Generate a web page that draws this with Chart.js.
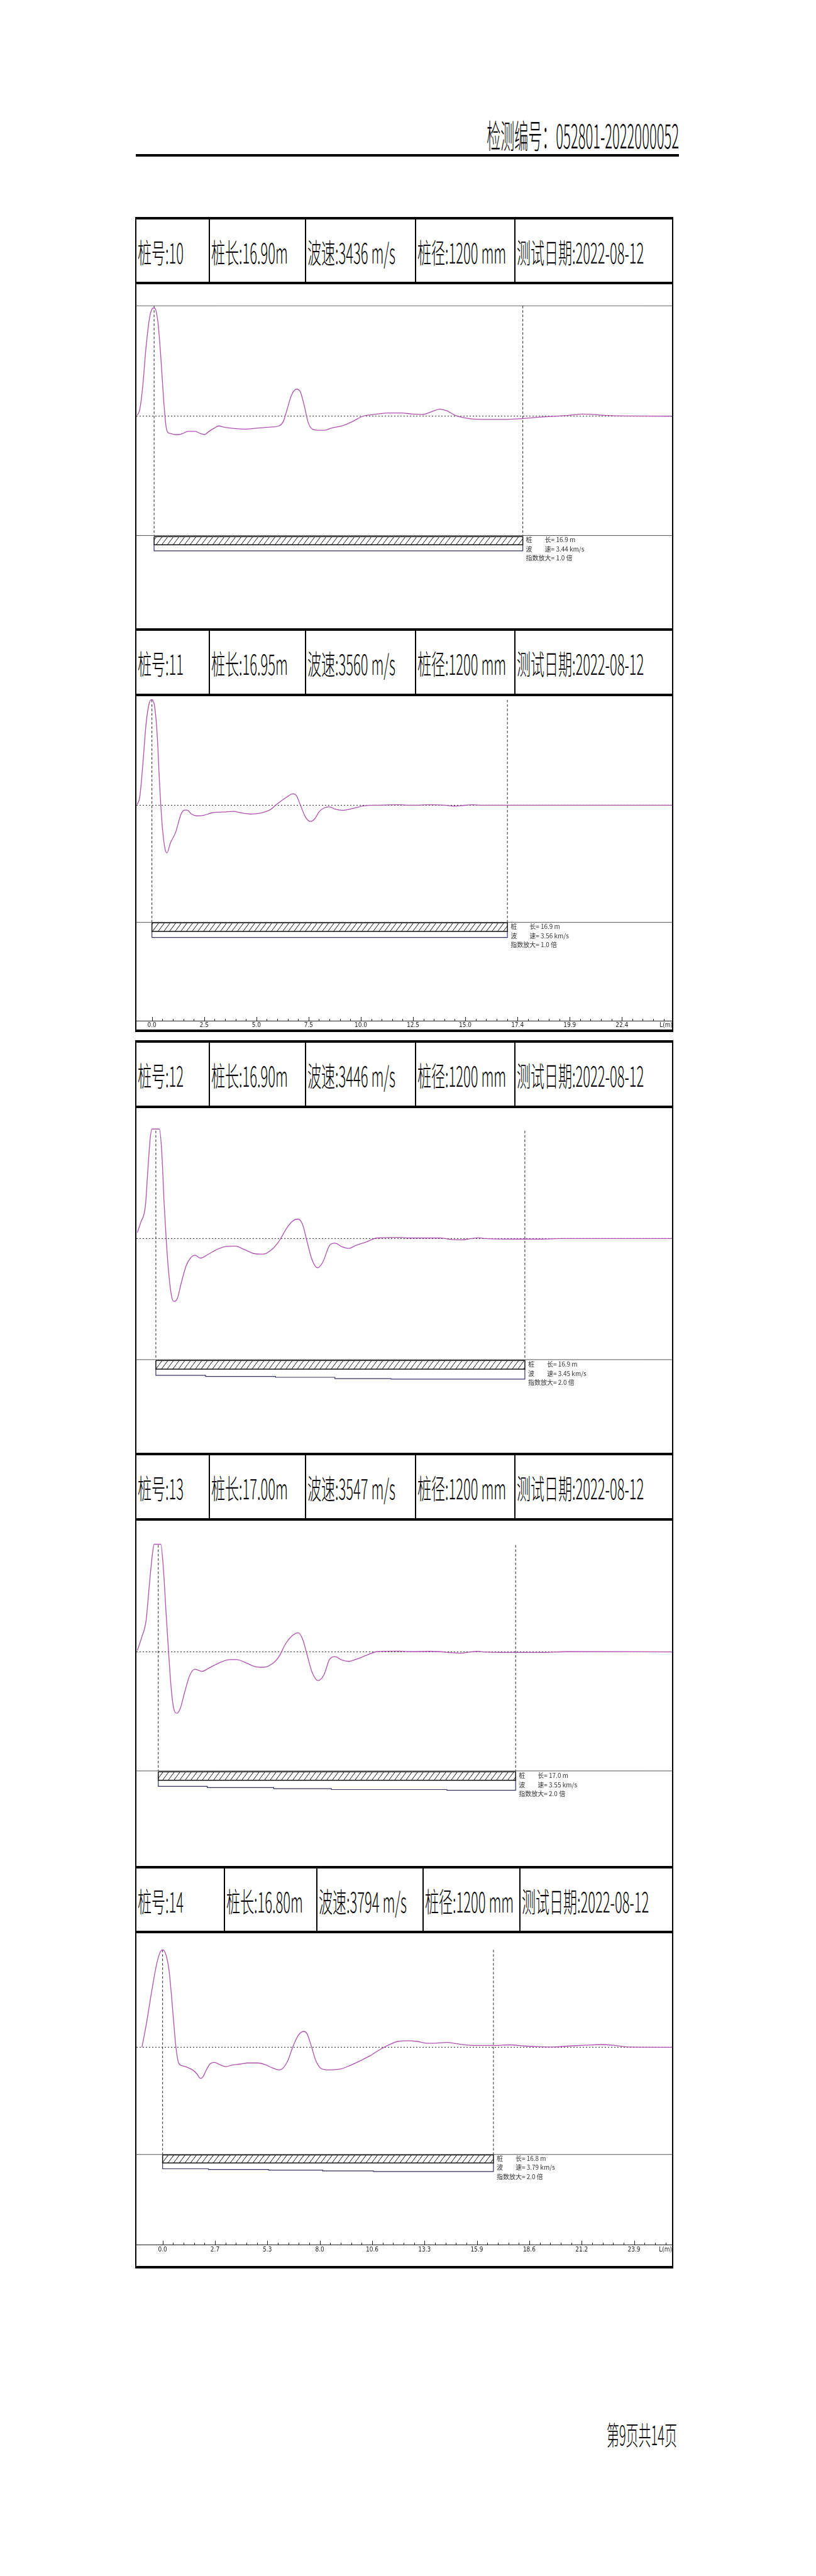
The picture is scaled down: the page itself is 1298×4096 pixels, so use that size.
<!DOCTYPE html>
<html>
<head>
<meta charset="utf-8">
<script src="https://cdn.jsdelivr.net/npm/chart.js@4.4.0/dist/chart.umd.min.js"></script>
<style>
  html, body { margin: 0; padding: 0; background: #fff; }
  body { width: 1298px; height: 4096px; position: relative; overflow: hidden; font-family: "Noto Sans CJK SC", sans-serif; color: #000; }
  .rule { position: absolute; background: #000; }
  .stretch { position: absolute; white-space: nowrap; line-height: 1; font-weight: 300; }
  #docNo { right: 218px; top: 201px; font-size: 22px; transform: scaleY(2.4); transform-origin: right center; }
  #pageNo { right: 221px; top: 3861px; font-size: 20px; transform: scaleY(2.1); transform-origin: right center; }
  .cell { position: absolute; display: flex; align-items: center; }
  .cell span { display: inline-block; font-size: 22px; font-weight: 300; line-height: 1; white-space: nowrap; transform: scaleY(2.0); transform-origin: left center; }
  canvas { position: absolute; }
</style>
</head>
<body>
<div class="stretch" id="docNo">检测编号：052801-2022000052</div>
<div class="rule" style="left:216px;top:245px;width:864px;height:4px"></div>
<div class="stretch" id="pageNo">第9页共14页</div>

<script>
// ---- 表头 ----
const p10Head = ['桩号:10', '桩长:16.90m', '波速:3436 m/s', '桩径:1200 mm', '测试日期:2022-08-12'];
const p11Head = ['桩号:11', '桩长:16.95m', '波速:3560 m/s', '桩径:1200 mm', '测试日期:2022-08-12'];
const p12Head = ['桩号:12', '桩长:16.90m', '波速:3446 m/s', '桩径:1200 mm', '测试日期:2022-08-12'];
const p13Head = ['桩号:13', '桩长:17.00m', '波速:3547 m/s', '桩径:1200 mm', '测试日期:2022-08-12'];
const p14Head = ['桩号:14', '桩长:16.80m', '波速:3794 m/s', '桩径:1200 mm', '测试日期:2022-08-12'];

// ---- 图内说明 ----
const p10Legend = ['桩　　长= 16.9 m', '波　　速= 3.44 km/s', '指数放大= 1.0 倍'];
const p11Legend = ['桩　　长= 16.9 m', '波　　速= 3.56 km/s', '指数放大= 1.0 倍'];
const p12Legend = ['桩　　长= 16.9 m', '波　　速= 3.45 km/s', '指数放大= 2.0 倍'];
const p13Legend = ['桩　　长= 17.0 m', '波　　速= 3.55 km/s', '指数放大= 2.0 倍'];
const p14Legend = ['桩　　长= 16.8 m', '波　　速= 3.79 km/s', '指数放大= 2.0 倍'];

// ---- 波形曲线 (距离 m / 幅值) ----
const p10Dist = [-0.77, -0.66, -0.53, -0.37, -0.21, -0.08, 0, 0.08, 0.19, 0.30, 0.43, 0.55, 0.64, 0.75, 0.95, 1.15, 1.31, 1.56, 1.88, 2.12, 2.31, 2.52, 2.76, 2.97, 3.16, 3.48, 4.12, 4.76, 5.40, 5.72, 5.92, 6.08, 6.29, 6.53, 6.69, 6.88, 7.05, 7.25, 7.49, 7.81, 8.13, 8.61, 9.09, 9.57, 10.05, 10.70, 11.33, 11.82, 12.30, 12.70, 13.10, 13.42, 13.82, 14.22, 15.02, 15.83, 16.63, 17.43, 18.23, 19.03, 19.67, 20.15, 20.79, 21.52, 23.74];
const p10Amp = [1, 5.9, 25.7, 63.4, 90.6, 99.4, 100, 98, 84.3, 57, 17.4, -9.8, -15.3, -16, -17, -17, -16, -14, -14, -16, -17, -14, -11, -9, -10, -11, -12, -11, -10, -9, -5, 5, 19, 25, 23, 10, -5, -12, -13, -13, -11, -9, -5, 0, 1.5, 3, 3, 2, 1.5, 4, 6.5, 5, 0.6, -1.5, -3, -3, -2.5, -1.2, -0.2, 0.8, 2, 1.5, 0.6, 0.2, 0];

const p11Dist = [-0.70, -0.58, -0.45, -0.28, -0.12, 0, 0.13, 0.25, 0.38, 0.50, 0.63, 0.72, 0.88, 1.13, 1.38, 1.55, 1.68, 1.88, 2.14, 2.39, 2.89, 3.39, 3.89, 4.22, 4.72, 5.22, 5.64, 6.06, 6.47, 6.72, 6.89, 7.09, 7.31, 7.56, 7.76, 7.97, 8.22, 8.47, 8.72, 9.06, 9.56, 10.14, 10.73, 11.73, 12.40, 13.23, 14.06, 14.40, 14.73, 15.31, 15.73, 24.80];
const p11Amp = [0.6, 7.7, 34, 75, 95, 97.7, 91, 65, 14, -21, -41, -44, -35, -25, -8.6, -4.5, -4.5, -8.1, -9.8, -9.6, -6.9, -6.3, -5.7, -6.9, -8.1, -7.1, -4.1, 2.6, 8.1, 10.6, 8.8, -0.4, -10.6, -15, -12.6, -6.1, -2.4, -1.4, -3.5, -4.7, -3.1, -0.4, 0, 0.4, 0, 0.4, -0.2, -0.8, -0.4, 0.4, 0, 0];

const p12Dist = [-0.85, -0.69, -0.48, -0.37, -0.26, -0.18, 0.16, 0.27, 0.38, 0.48, 0.59, 0.71, 0.83, 0.99, 1.15, 1.39, 1.63, 1.79, 2.04, 2.36, 2.76, 3.24, 3.64, 4.04, 4.52, 4.92, 5.32, 5.64, 6.04, 6.36, 6.52, 6.73, 6.92, 7.16, 7.40, 7.64, 7.96, 8.20, 8.52, 8.85, 9.17, 9.65, 10.13, 11.09, 11.73, 12.53, 13.01, 13.49, 13.97, 14.46, 14.78, 15.10, 16.54, 17.50, 18.62, 23.64];
const p12Amp = [5.5, 15, 30, 62, 92, 101, 101, 80, 32, -2.5, -32, -52, -58, -55, -42, -25, -17, -15.4, -18, -15, -10.4, -7.2, -7, -10, -14, -14.4, -10, -2.5, 11, 17.4, 17.9, 12.4, -2.5, -20, -27, -22, -6.2, -4.2, -7.5, -9, -6.2, -3, 0.5, 1, 0.5, 0.5, 0.5, -0.7, -1.2, 0, 0.7, 0, -0.5, -0.5, 0, 0];

const p13Dist = [-1.00, -0.78, -0.58, -0.42, -0.28, -0.20, 0.12, 0.25, 0.37, 0.50, 0.62, 0.75, 0.88, 1.05, 1.25, 1.50, 1.75, 2.08, 2.41, 2.91, 3.41, 3.74, 4.08, 4.58, 5.00, 5.49, 5.74, 6.07, 6.44, 6.66, 6.87, 7.07, 7.32, 7.60, 7.87, 8.15, 8.40, 8.74, 9.07, 9.40, 9.90, 10.40, 11.40, 12.06, 12.90, 13.40, 13.90, 14.40, 14.80, 15.20, 15.56, 17.05, 18.20, 19.40, 24.44];
const p13Amp = [1.2, 14, 29, 63, 90, 99.4, 99.4, 75, 36, -3.2, -35, -53.5, -56.7, -52, -37.6, -21.6, -16, -18, -15, -10, -7.1, -7.1, -9.3, -13.5, -14.2, -10, -4.4, 7.9, 16, 17.7, 11.5, -2, -19, -26.5, -21.6, -6.9, -4.4, -7.6, -8.8, -6.9, -3.2, 0.2, 0.7, 0.2, 0.5, 0.2, -0.7, -1.2, -0.2, 0.5, -0.2, -0.5, -0.5, 0.2, 0];

const p14Dist = [-1.05, -0.83, -0.57, -0.30, -0.12, 0, 0.14, 0.32, 0.44, 0.55, 0.67, 0.82, 1.03, 1.30, 1.56, 1.74, 1.92, 2.06, 2.22, 2.40, 2.63, 2.90, 3.21, 3.52, 3.96, 4.32, 4.85, 5.20, 5.56, 5.91, 6.13, 6.36, 6.63, 6.89, 7.16, 7.34, 7.55, 7.78, 8.05, 8.40, 9.02, 9.47, 10.00, 10.53, 11.07, 11.60, 11.95, 12.49, 12.93, 13.46, 13.91, 14.44, 14.97, 15.50, 16.20, 16.90, 17.64, 18.35, 19.06, 19.77, 20.66, 21.55, 22.26, 22.97, 23.68, 25.87];
const p14Amp = [0, 21, 50, 77, 88, 90, 87, 72, 50, 26, 1.2, -14.7, -17.2, -18.9, -21.4, -24.5, -28.7, -27, -20.9, -15.5, -14, -16, -17.9, -16.4, -15.5, -14.5, -14.5, -16, -18.9, -20.9, -18.9, -12.3, 1.2, 11, 14.7, 12.3, 1.2, -12.3, -19.6, -20.9, -20.1, -17.2, -12.8, -7.9, -1.7, 3.2, 5.4, 6.1, 5.4, 3.7, 3.9, 4.4, 3.2, 2, 1.7, 1.7, 2.2, 1.2, 0.5, 0.2, 1.2, 2, 2.5, 1.7, 0.2, 0];

// ---- 桩身示意下边线 (距离 m / 幅值) ----
const p10LowX = [0, 16.9];
const p10LowY = [-124.4, -124.4];
const p11LowX = [0, 16.95];
const p11LowY = [-122.2, -122.2];
const p12LowX = [0, 2.28, 5.48, 8.2, 10.77, 13.65, 16.9];
const p12LowY = [-125.5, -126.2, -127.2, -128, -129.2, -129.7, -129.7];
const p13LowX = [0, 2.33, 5.49, 8.24, 10.73, 13.73, 15.72, 17.0];
const p13LowY = [-123.5, -124.2, -125.4, -126.4, -127.2, -127.2, -127.9, -127.9];
const p14LowX = [0, 2.33, 5.38, 8.13, 10.71, 13.55, 15.6, 16.8];
const p14LowY = [-111.7, -112.2, -112.9, -113.4, -114.2, -114.7, -114.7, -114.7];

// ---- 横轴刻度 ----
const p11TickPos = [0, 2.49, 4.98, 7.47, 9.96, 12.45, 14.94, 17.43, 19.92, 22.41];
const p11TickLabels = ['0.0', '2.5', '5.0', '7.5', '10.0', '12.5', '15.0', '17.4', '19.9', '22.4'];
const p14TickPos = [0, 2.66, 5.32, 7.98, 10.64, 13.30, 15.96, 18.62, 21.28, 23.94];
const p14TickLabels = ['0.0', '2.7', '5.3', '8.0', '10.6', '13.3', '15.9', '18.6', '21.2', '23.9'];

// 版面 (像素) 与各图的坐标范围
const frameL = 215, frameR = 1071;
const colsA = [332, 485, 660, 818];
const colsB = [356, 503, 672, 826];

const panels = [
  { top: 345, head: 448, bottom: 999, cols: colsA, head_: p10Head, legend: p10Legend, dist: p10Dist, amp: p10Amp, lowX: p10LowX, lowY: p10LowY,
    len: 16.9, xMin: -0.81, xMax: 23.74, yMin: -196.0, yMax: 121.9, topLine: 102, floor: -110.3, barTop: -111.3, barBot: -118.8, dashTop: 102, legendY: -114.3 },
  { top: 999, head: 1103, bottom: 1637, cols: colsA, head_: p11Head, legend: p11Legend, dist: p11Dist, amp: p11Amp, lowX: p11LowX, lowY: p11LowY,
    len: 16.95, xMin: -0.74, xMax: 24.80, yMin: -199.2, yMax: 100.8, floor: -108.3, barTop: -108.6, barBot: -116.6, dashTop: 97.4, legendY: -112.3,
    axisH: 14, tickPad: 1, tickPos: p11TickPos, tickLabels: p11TickLabels, unitPos: 24.52 },
  { top: 1654, head: 1758, bottom: 2310, cols: colsA, head_: p12Head, legend: p12Legend, dist: p12Dist, amp: p12Amp, lowX: p12LowX, lowY: p12LowY,
    len: 16.9, xMin: -0.89, xMax: 23.64, yMin: -197.6, yMax: 120.3, floor: -111.7, barTop: -112.5, barBot: -120.5, dashTop: 99.5, legendY: -116 },
  { top: 2310, head: 2414, bottom: 2967, cols: colsA, head_: p13Head, legend: p13Legend, dist: p13Dist, amp: p13Amp, lowX: p13LowX, lowY: p13LowY,
    len: 17.0, xMin: -1.04, xMax: 24.44, yMin: -197.8, yMax: 121.2, floor: -110, barTop: -110.8, barBot: -118.6, dashTop: 98.7, legendY: -114.5 },
  { top: 2967, head: 3070, bottom: 3603, cols: colsB, head_: p14Head, legend: p14Legend, dist: p14Dist, amp: p14Amp, lowX: p14LowX, lowY: p14LowY,
    len: 16.8, xMin: -1.33, xMax: 25.87, yMin: -182.2, yMax: 105.3, floor: -99, barTop: -99.4, barBot: -106.8, dashTop: 90, legendY: -102.6,
    axisH: 34, tickPad: 2, tickPos: p14TickPos, tickLabels: p14TickLabels, unitPos: 25.54 }
];

const addBox = (x, y, w, h) => {
  const d = document.createElement('div');
  d.className = 'rule';
  d.style.cssText = `left:${x}px;top:${y}px;width:${w}px;height:${h}px`;
  document.body.appendChild(d);
};

// 斜线填充
const makeHatch = () => {
  const c = document.createElement('canvas');
  c.width = 9; c.height = 12;
  const g = c.getContext('2d');
  g.fillStyle = '#fff';
  g.fillRect(0, 0, 9, 12);
  g.strokeStyle = '#111';
  g.lineWidth = 1;
  g.beginPath(); g.moveTo(0, 12); g.lineTo(9, 0); g.stroke();
  return g.createPattern(c, 'repeat');
};
const hatch = makeHatch();

const xy = (xs, ys) => xs.map((v, i) => ({ x: v, y: ys[i] }));

Chart.defaults.font.family = '"Noto Sans CJK SC", sans-serif';

panels.forEach(p => {
  // 表格线
  addBox(frameL, p.top, frameR - frameL, 4);
  addBox(frameL, p.head, frameR - frameL, 4);
  addBox(frameL, p.bottom, frameR - frameL, 4);
  addBox(frameL, p.top, 2, p.bottom + 4 - p.top);
  addBox(frameR - 2, p.top, 2, p.bottom + 4 - p.top);
  p.cols.forEach(cx => addBox(cx, p.top, 2, p.head + 4 - p.top));

  const starts = [frameL + 2].concat(p.cols.map(c => c + 2));
  const ends = p.cols.concat([frameR - 2]);
  p.head_.forEach((t, i) => {
    const d = document.createElement('div');
    d.className = 'cell';
    d.style.cssText = `left:${starts[i] + 2}px;top:${p.top + 4}px;width:${ends[i] - starts[i] - 2}px;height:${p.head - p.top - 4}px`;
    const s = document.createElement('span');
    s.textContent = t;
    d.appendChild(s);
    document.body.appendChild(d);
  });

  // 波形图
  const cv = document.createElement('canvas');
  cv.width = frameR - frameL - 4;
  cv.height = p.bottom - p.head - 4;
  cv.style.left = (frameL + 2) + 'px';
  cv.style.top = (p.head + 4) + 'px';
  document.body.appendChild(cv);

  const lowLine = [{ x: 0, y: p.barBot }].concat(xy(p.lowX, p.lowY)).concat([{ x: p.len, y: p.barBot }]);
  lowLine.splice(1, 0, { x: 0, y: p.lowY[0] });

  const datasets = [
    { data: xy(p.dist, p.amp), borderColor: '#b050b0', borderWidth: 1.3, cubicInterpolationMode: 'monotone' },
    { data: [{ x: p.xMin, y: 0 }, { x: p.xMax, y: 0 }], borderColor: '#222', borderWidth: 1, borderDash: [2, 3] },
    { data: [{ x: 0, y: p.dashTop }, { x: 0, y: p.floor }], borderColor: '#222', borderWidth: 1, borderDash: [4, 3] },
    { data: [{ x: p.len, y: p.dashTop }, { x: p.len, y: p.floor }], borderColor: '#222', borderWidth: 1, borderDash: [4, 3] },
    { data: [{ x: p.xMin, y: p.floor }, { x: p.xMax, y: p.floor }], borderColor: '#555', borderWidth: 1 },
    { data: [{ x: 0, y: p.barTop }, { x: p.len, y: p.barTop }, { x: p.len, y: p.barBot }, { x: 0, y: p.barBot }, { x: 0, y: p.barTop }],
      borderColor: '#111', borderWidth: 1.5, fill: 'shape', backgroundColor: hatch },
    { data: lowLine, stepped: 'after', borderColor: '#30306a', borderWidth: 1.2 }
  ];
  if (p.topLine) {
    datasets.push({ data: [{ x: p.xMin, y: p.topLine }, { x: p.xMax, y: p.topLine }], borderColor: '#666', borderWidth: 1 });
  }

  const extras = {
    id: 'pileExtras',
    afterDatasetsDraw(chart) {
      const { ctx, scales: { x, y } } = chart;
      ctx.save();
      ctx.fillStyle = '#333';
      ctx.font = '10px "Noto Sans CJK SC", sans-serif';
      ctx.textBaseline = 'middle';
      const lx = x.getPixelForValue(p.len) + 5;
      const ly = y.getPixelForValue(p.legendY);
      p.legend.forEach((t, i) => ctx.fillText(t, lx, ly + i * 14.5));
      ctx.restore();
    },
    afterDraw(chart) {
      if (!p.tickPos) return;
      const { ctx, chartArea: area, scales: { x } } = chart;
      const step = p.tickPos[1] - p.tickPos[0];
      ctx.save();
      ctx.strokeStyle = '#222';
      ctx.lineWidth = 1;
      ctx.beginPath();
      p.tickPos.forEach(v => {
        const px = Math.round(x.getPixelForValue(v)) + 0.5;
        ctx.moveTo(px, area.bottom); ctx.lineTo(px, area.bottom - 6);
        for (let k = 1; k < 5; k++) {
          const m = v + k * step / 5;
          if (m > x.max) break;
          const mx = Math.round(x.getPixelForValue(m)) + 0.5;
          ctx.moveTo(mx, area.bottom); ctx.lineTo(mx, area.bottom - 3);
        }
      });
      ctx.stroke();
      ctx.restore();
    }
  };

  const labels = p.tickPos ? p.tickLabels.concat(['L(m)']) : [];

  new Chart(cv, {
    type: 'line',
    data: { datasets },
    options: {
      responsive: false,
      animation: false,
      events: [],
      devicePixelRatio: 1,
      layout: { padding: 0 },
      elements: { point: { radius: 0 }, line: { tension: 0 } },
      plugins: { legend: { display: false }, tooltip: { enabled: false } },
      scales: {
        x: {
          type: 'linear',
          min: p.xMin,
          max: p.xMax,
          display: !!p.axisH,
          afterBuildTicks: s => { if (p.tickPos) s.ticks = p.tickPos.concat([p.unitPos]).map(v => ({ value: v })); },
          afterFit: s => { s.height = p.axisH || 0; s.paddingLeft = 0; s.paddingRight = 0; },
          grid: { display: false, drawTicks: false },
          border: { display: true, color: '#222', width: 1 },
          ticks: {
            autoSkip: false, maxRotation: 0, minRotation: 0, padding: p.tickPad || 0, color: '#222',
            font: { size: 10, family: '"DejaVu Sans Condensed", "DejaVu Sans", sans-serif' },
            callback: (v, i) => labels[i]
          }
        },
        y: { type: 'linear', min: p.yMin, max: p.yMax, display: false }
      }
    },
    plugins: [extras]
  });
});
</script>
</body>
</html>
